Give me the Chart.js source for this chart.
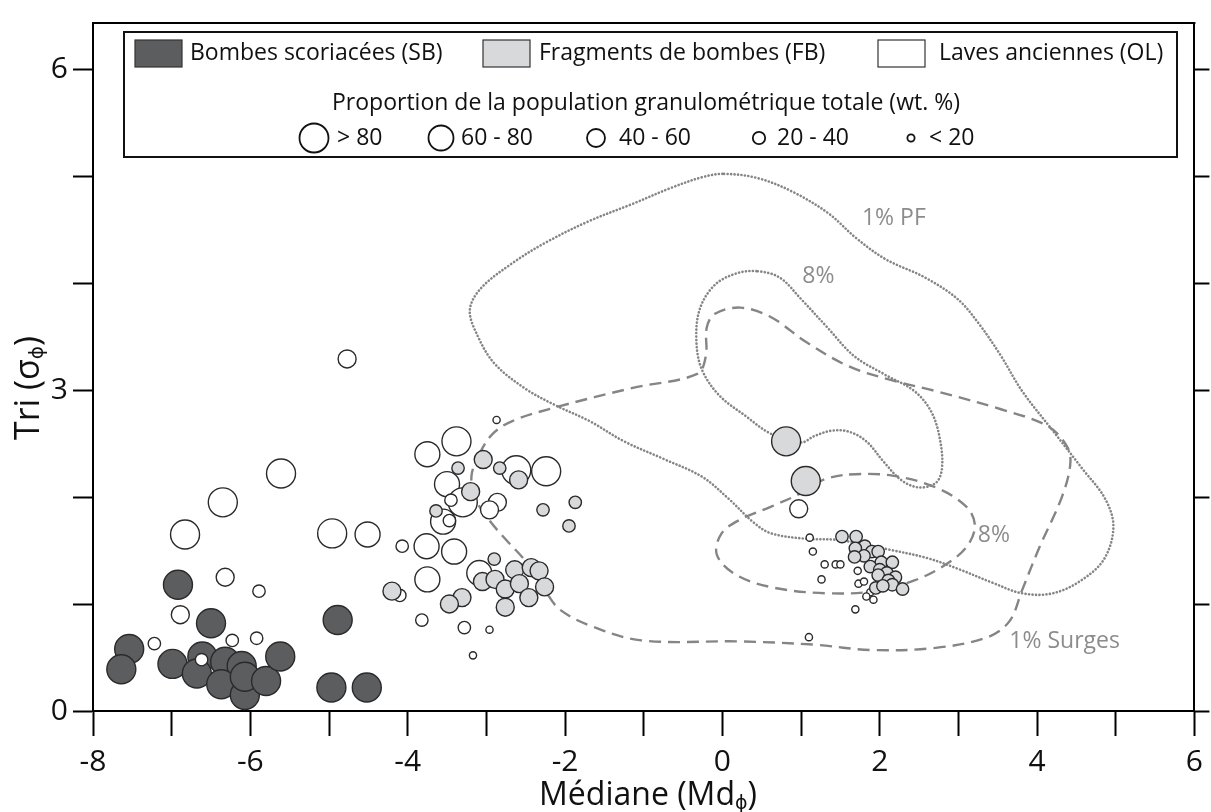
<!DOCTYPE html>
<html><head><meta charset="utf-8">
<script src="https://cdn.jsdelivr.net/npm/chart.js@4.4.1/dist/chart.umd.min.js"></script>
<style>html,body{margin:0;padding:0;background:#fff;}#wrap{width:1211px;height:812px;}</style>
</head><body><div id="wrap"><canvas id="c" width="1211" height="812"></canvas></div>
<script>
// ---------------- data ----------------
const X_TICK_LABELS = [-8, -6, -4, -2, 0, 2, 4, 6];
const Y_TICK_LABELS = [0, 3, 6];
const SERIES_NAMES = ['Bombes scoriacées (SB)', 'Fragments de bombes (FB)', 'Laves anciennes (OL)'];
const PROPORTION_TITLE = 'Proportion de la population granulométrique totale (wt. %)';
const PROPORTION_CLASSES = ['> 80', '60 - 80', '40 - 60', '20 - 40', '< 20']; // class index 0..4

// [Md, sorting, proportion class index]
const SB = [
  [-6.92,1.18,0],[-6.50,0.82,0],[-7.54,0.58,0],[-7.64,0.39,0],[-6.99,0.44,0],[-6.61,0.51,0],
  [-6.68,0.35,0],[-6.32,0.46,0],[-6.11,0.42,0],[-6.37,0.25,0],[-6.07,0.15,0],[-6.07,0.32,0],
  [-5.80,0.28,0],[-5.62,0.51,0],[-4.89,0.85,0],[-4.97,0.22,0],[-4.52,0.22,0]
];
const FB = [
  [-3.04,2.35,2],[-3.36,2.27,3],[-2.83,2.27,3],[-2.59,2.16,2],[-3.20,2.05,2],[-3.64,1.87,3],
  [-2.28,1.88,3],[-1.87,1.95,3],[-1.95,1.73,3],[-2.90,1.42,3],[-3.05,1.21,2],[-2.89,1.23,2],
  [-2.76,1.14,2],[-2.64,1.32,2],[-2.58,1.19,2],[-2.43,1.34,2],[-2.33,1.31,2],[-2.26,1.16,2],
  [-2.46,1.06,2],[-2.76,0.97,2],[-3.31,1.06,2],[-3.47,1.00,2],[-4.20,1.12,2],
  [0.81,2.52,0],[1.06,2.15,0],
  [1.52,1.63,3],[1.70,1.63,3],[1.81,1.54,3],[1.69,1.52,3],[1.90,1.49,3],[1.98,1.49,3],
  [1.80,1.45,3],[1.68,1.44,3],[2.02,1.39,3],[2.16,1.39,3],[1.88,1.35,3],[2.00,1.32,3],
  [2.09,1.29,3],[1.98,1.27,3],[2.20,1.25,3],[2.11,1.22,3],[1.95,1.15,3],[2.16,1.18,3],
  [2.29,1.14,3],[2.04,1.17,3]
];
const OL = [
  [-4.77,3.29,2],[-5.61,2.22,0],[-6.35,1.95,0],[-6.83,1.65,0],[-4.96,1.66,0],[-4.51,1.65,1],
  [-4.07,1.54,3],[-6.32,1.25,2],[-5.89,1.12,3],[-6.89,0.90,2],[-7.22,0.63,3],[-6.23,0.66,3],
  [-5.92,0.68,3],[-6.62,0.48,3],
  [-3.38,2.52,0],[-3.75,2.40,1],[-2.62,2.25,0],[-2.24,2.24,0],[-3.50,2.12,1],[-3.30,1.95,0],
  [-3.45,1.97,3],[-2.86,1.95,2],[-2.96,1.88,2],[-3.55,1.77,1],[-3.47,1.78,3],[-3.76,1.54,1],
  [-3.41,1.49,1],[-3.75,1.23,1],[-3.09,1.29,1],[-4.10,1.08,3],[-3.82,0.85,3],[-3.28,0.78,3],
  [-2.96,0.76,4],[-3.17,0.52,4],[-2.87,2.72,4],
  [0.97,1.89,2],
  [1.11,1.62,4],[1.15,1.49,4],[1.30,1.37,4],[1.44,1.37,4],[1.50,1.37,4],[1.26,1.23,4],
  [1.72,1.31,4],[1.73,1.19,4],[1.80,1.21,4],[1.88,1.11,4],[1.83,1.07,4],[1.92,1.04,4],
  [1.69,0.95,4],[1.10,0.69,4]
];

// contour outlines [Md, sorting]
const PF_1 = [[0.02,5.02],[0.45,4.98],[0.90,4.85],[1.35,4.65],[1.70,4.42],[2.08,4.22],[2.58,4.05],
  [2.99,3.85],[3.26,3.62],[3.54,3.32],[3.81,2.99],[4.20,2.62],[4.58,2.26],[4.86,1.99],[4.97,1.73],
  [4.86,1.43],[4.58,1.23],[4.20,1.10],[3.81,1.10],[3.43,1.20],[2.99,1.33],[2.60,1.43],[2.11,1.51],
  [1.78,1.56],[1.45,1.60],[1.06,1.61],[0.62,1.66],[0.40,1.76],[0.07,1.99],[-0.26,2.19],[-0.76,2.36],
  [-1.25,2.52],[-1.69,2.71],[-2.13,2.86],[-2.52,3.02],[-2.90,3.25],[-3.12,3.52],[-3.21,3.75],
  [-3.07,3.95],[-2.68,4.18],[-2.24,4.38],[-1.69,4.58],[-1.14,4.74],[-0.65,4.89],[-0.25,4.99]];
const PF_8 = [[0.45,4.11],[0.73,4.05],[1.00,3.85],[1.34,3.58],[1.67,3.32],[2.05,3.15],[2.44,2.99],
  [2.66,2.79],[2.77,2.52],[2.79,2.26],[2.71,2.13],[2.49,2.09],[2.27,2.16],[2.05,2.33],[1.83,2.52],
  [1.61,2.61],[1.39,2.62],[1.17,2.57],[1.00,2.51],[0.62,2.59],[0.29,2.76],[-0.04,2.95],[-0.26,3.19],
  [-0.33,3.45],[-0.29,3.75],[-0.10,3.98],[0.18,4.09]];
const SURGES_1 = [[-3.09,2.40],[-2.92,2.59],[-2.67,2.71],[-2.11,2.84],[-1.14,3.02],[-0.32,3.15],
  [-0.21,3.32],[-0.20,3.58],[-0.10,3.71],[0.23,3.77],[0.62,3.68],[1.06,3.45],[1.61,3.22],[2.16,3.09],
  [2.71,2.99],[3.54,2.82],[4.14,2.66],[4.39,2.46],[4.42,2.29],[4.31,1.99],[4.03,1.53],[3.81,1.13],
  [3.65,0.84],[3.37,0.69],[2.71,0.59],[1.89,0.57],[1.17,0.62],[0.23,0.65],[-1.03,0.66],[-1.69,0.80],
  [-2.07,0.95],[-2.24,1.11],[-2.49,1.39],[-2.75,1.60],[-2.96,1.78],[-3.13,1.97],[-3.19,2.19]];
const SURGES_8 = [[1.61,2.21],[2.16,2.20],[2.71,2.09],[3.10,1.91],[3.21,1.73],[3.10,1.53],[2.82,1.36],
  [2.44,1.22],[1.94,1.12],[1.34,1.10],[0.67,1.15],[0.18,1.27],[-0.07,1.46],[-0.01,1.66],[0.23,1.79],
  [0.62,1.91],[1.01,2.04],[1.28,2.16]];
const CONTOUR_LABELS = [['1% PF',2.18,4.60],['8%',1.22,4.06],['8%',3.45,1.64],['1% Surges',4.35,0.65]];

// ---------------- style ----------------
const FONT = '"Open Sans", "DejaVu Sans", sans-serif';
const RADII = [14.5, 12.5, 9, 6.2, 3.6];
const COLORS = { SB: '#5c5d5f', FB: '#d8d9db', OL: '#ffffff' };
const EDGE = '#2a2a2a';
const CONTOUR_COLOR = '#858585';

function pts(arr) { return arr.map(p => ({ x: p[0], y: p[1], c: p[2] })); }
function pointSet(label, arr, fill, order) {
  return {
    label, data: pts(arr), order,
    backgroundColor: fill, borderColor: EDGE, borderWidth: 1.4,
    pointRadius: ctx => RADII[ctx.raw ? ctx.raw.c : 0],
    pointHoverRadius: ctx => RADII[ctx.raw ? ctx.raw.c : 0],
    pointBorderWidth: 1.4, pointHoverBorderWidth: 1.4
  };
}
function loopSet(arr, dash, width, cap) {
  const n = arr.length;
  const seq = [arr[n - 1], ...arr, arr[0], arr[1]].map(p => ({ x: p[0], y: p[1] }));
  const last = seq.length - 2;
  return {
    data: seq, showLine: true, pointRadius: 0, pointHoverRadius: 0, order: 10,
    borderColor: CONTOUR_COLOR, borderWidth: width, borderDash: dash, borderCapStyle: cap,
    tension: 0.35, fill: false,
    segment: {
      borderColor: c => (c.p0DataIndex === 0 || c.p0DataIndex === last) ? 'rgba(0,0,0,0)' : CONTOUR_COLOR
    }
  };
}

const overlay = {
  id: 'overlay',
  afterDraw(chart) {
    const ctx = chart.ctx, ca = chart.chartArea;
    const xs = chart.scales.x, ys = chart.scales.y;
    ctx.save();
    // top frame line
    ctx.strokeStyle = '#000'; ctx.lineWidth = 2;
    ctx.beginPath(); ctx.moveTo(ca.left - 1, ca.top); ctx.lineTo(ca.right + 1, ca.top); ctx.stroke();

    // contour labels
    ctx.fillStyle = '#8c8c8c'; ctx.font = '23px ' + FONT;
    ctx.textAlign = 'center'; ctx.textBaseline = 'middle';
    CONTOUR_LABELS.forEach(([t, x, y]) => ctx.fillText(t, xs.getPixelForValue(x), ys.getPixelForValue(y)));

    // legend box
    ctx.fillStyle = '#fff'; ctx.strokeStyle = '#111'; ctx.lineWidth = 2;
    ctx.fillRect(124, 32, 1053, 125); ctx.strokeRect(124, 32, 1053, 125);
    const sw = [[135, 190, COLORS.SB], [483, 539, COLORS.FB], [878, 939, COLORS.OL]];
    ctx.font = '23px ' + FONT; ctx.textAlign = 'left'; ctx.textBaseline = 'middle';
    sw.forEach(([bx, tx, col], i) => {
      ctx.fillStyle = col; ctx.fillRect(bx, 40, 47, 27);
      ctx.strokeStyle = '#333'; ctx.lineWidth = 1.2; ctx.strokeRect(bx, 40, 47, 27);
      ctx.fillStyle = '#111'; ctx.fillText(SERIES_NAMES[i], tx, 53);
    });
    ctx.textAlign = 'center'; ctx.fillText(PROPORTION_TITLE, 646, 103);
    const circ = [[314, 337], [441, 461], [596, 619], [759, 777], [911, 929]];
    ctx.textAlign = 'left';
    circ.forEach(([cx, tx], i) => {
      ctx.beginPath(); ctx.arc(cx, 138, RADII[i], 0, Math.PI * 2);
      ctx.fillStyle = '#fff'; ctx.fill();
      ctx.strokeStyle = '#111'; ctx.lineWidth = 1.8; ctx.stroke();
      ctx.fillStyle = '#111'; ctx.fillText(PROPORTION_CLASSES[i], tx, 138);
    });

    // axis titles with subscript phi
    function measure(main, sub, tail, size) {
      ctx.font = size + 'px ' + FONT;
      const w1 = ctx.measureText(main).width, w3 = ctx.measureText(tail).width;
      ctx.font = Math.round(size * 0.58) + 'px ' + FONT;
      const w2 = ctx.measureText(sub).width;
      return { w1, w2, w3, total: w1 + w2 + w3 };
    }
    function drawSub(main, sub, tail, size, x0, base) {
      const m = measure(main, sub, tail, size);
      let x = x0 - m.total / 2;
      ctx.textAlign = 'left'; ctx.textBaseline = 'alphabetic'; ctx.fillStyle = '#111';
      ctx.font = size + 'px ' + FONT; ctx.fillText(main, x, base); x += m.w1;
      ctx.font = Math.round(size * 0.58) + 'px ' + FONT; ctx.fillText(sub, x, base + size * 0.12); x += m.w2;
      ctx.font = size + 'px ' + FONT; ctx.fillText(tail, x, base);
    }
    drawSub('Médiane (Md', 'ϕ', ')', 32, 648, 805);
    ctx.save();
    ctx.translate(39, 388); ctx.rotate(-Math.PI / 2);
    drawSub('Tri (σ', 'ϕ', ')', 34, 0, 0);
    ctx.restore();
    ctx.restore();
  }
};

const tickFont = { family: FONT, size: 30 };
new Chart(document.getElementById('c'), {
  type: 'scatter',
  data: {
    datasets: [
      pointSet(SERIES_NAMES[1], FB, COLORS.FB, 1),
      pointSet(SERIES_NAMES[2], OL, COLORS.OL, 2),
      pointSet(SERIES_NAMES[0], SB, COLORS.SB, 3),
      loopSet(PF_1, [0.1, 3.4], 2.6, 'round'),
      loopSet(PF_8, [0.1, 3.4], 2.6, 'round'),
      loopSet(SURGES_1, [12, 7], 2.4, 'butt'),
      loopSet(SURGES_8, [12, 7], 2.4, 'butt')
    ]
  },
  options: {
    responsive: false, animation: false, devicePixelRatio: 1, events: [],
    layout: { padding: { top: 14, left: 0, right: 0, bottom: 0 } },
    plugins: { legend: { display: false }, tooltip: { enabled: false } },
    scales: {
      x: {
        type: 'linear', position: 'bottom', min: -8, max: 6,
        afterFit: s => { s.height = 101; },
        ticks: { stepSize: 1, autoSkip: false, maxRotation: 0, padding: 8, color: '#111', font: tickFont,
          callback: v => X_TICK_LABELS.includes(v) ? String(v) : '' },
        grid: { drawOnChartArea: false, drawTicks: true, tickLength: 25, tickWidth: 2, tickColor: '#000' },
        border: { display: true, color: '#000', width: 2 }
      },
      y: {
        type: 'linear', position: 'left', min: 0, max: 6.43,
        afterFit: s => { s.width = 93; },
        ticks: { stepSize: 1, includeBounds: false, padding: 5, color: '#111', font: tickFont,
          callback: v => Y_TICK_LABELS.includes(v) ? String(v) : '' },
        grid: { drawOnChartArea: false, drawTicks: true, tickLength: 20, tickWidth: 2, tickColor: '#000' },
        border: { display: true, color: '#000', width: 2 }
      },
      yR: {
        type: 'linear', position: 'right', min: 0, max: 6.43,
        afterFit: s => { s.width = 15; },
        ticks: { stepSize: 1, includeBounds: false, display: false },
        grid: { drawOnChartArea: false, drawTicks: true, tickLength: 15, tickWidth: 2, tickColor: '#000' },
        border: { display: true, color: '#000', width: 2 }
      }
    }
  },
  plugins: [overlay]
});
</script>
</body></html>
